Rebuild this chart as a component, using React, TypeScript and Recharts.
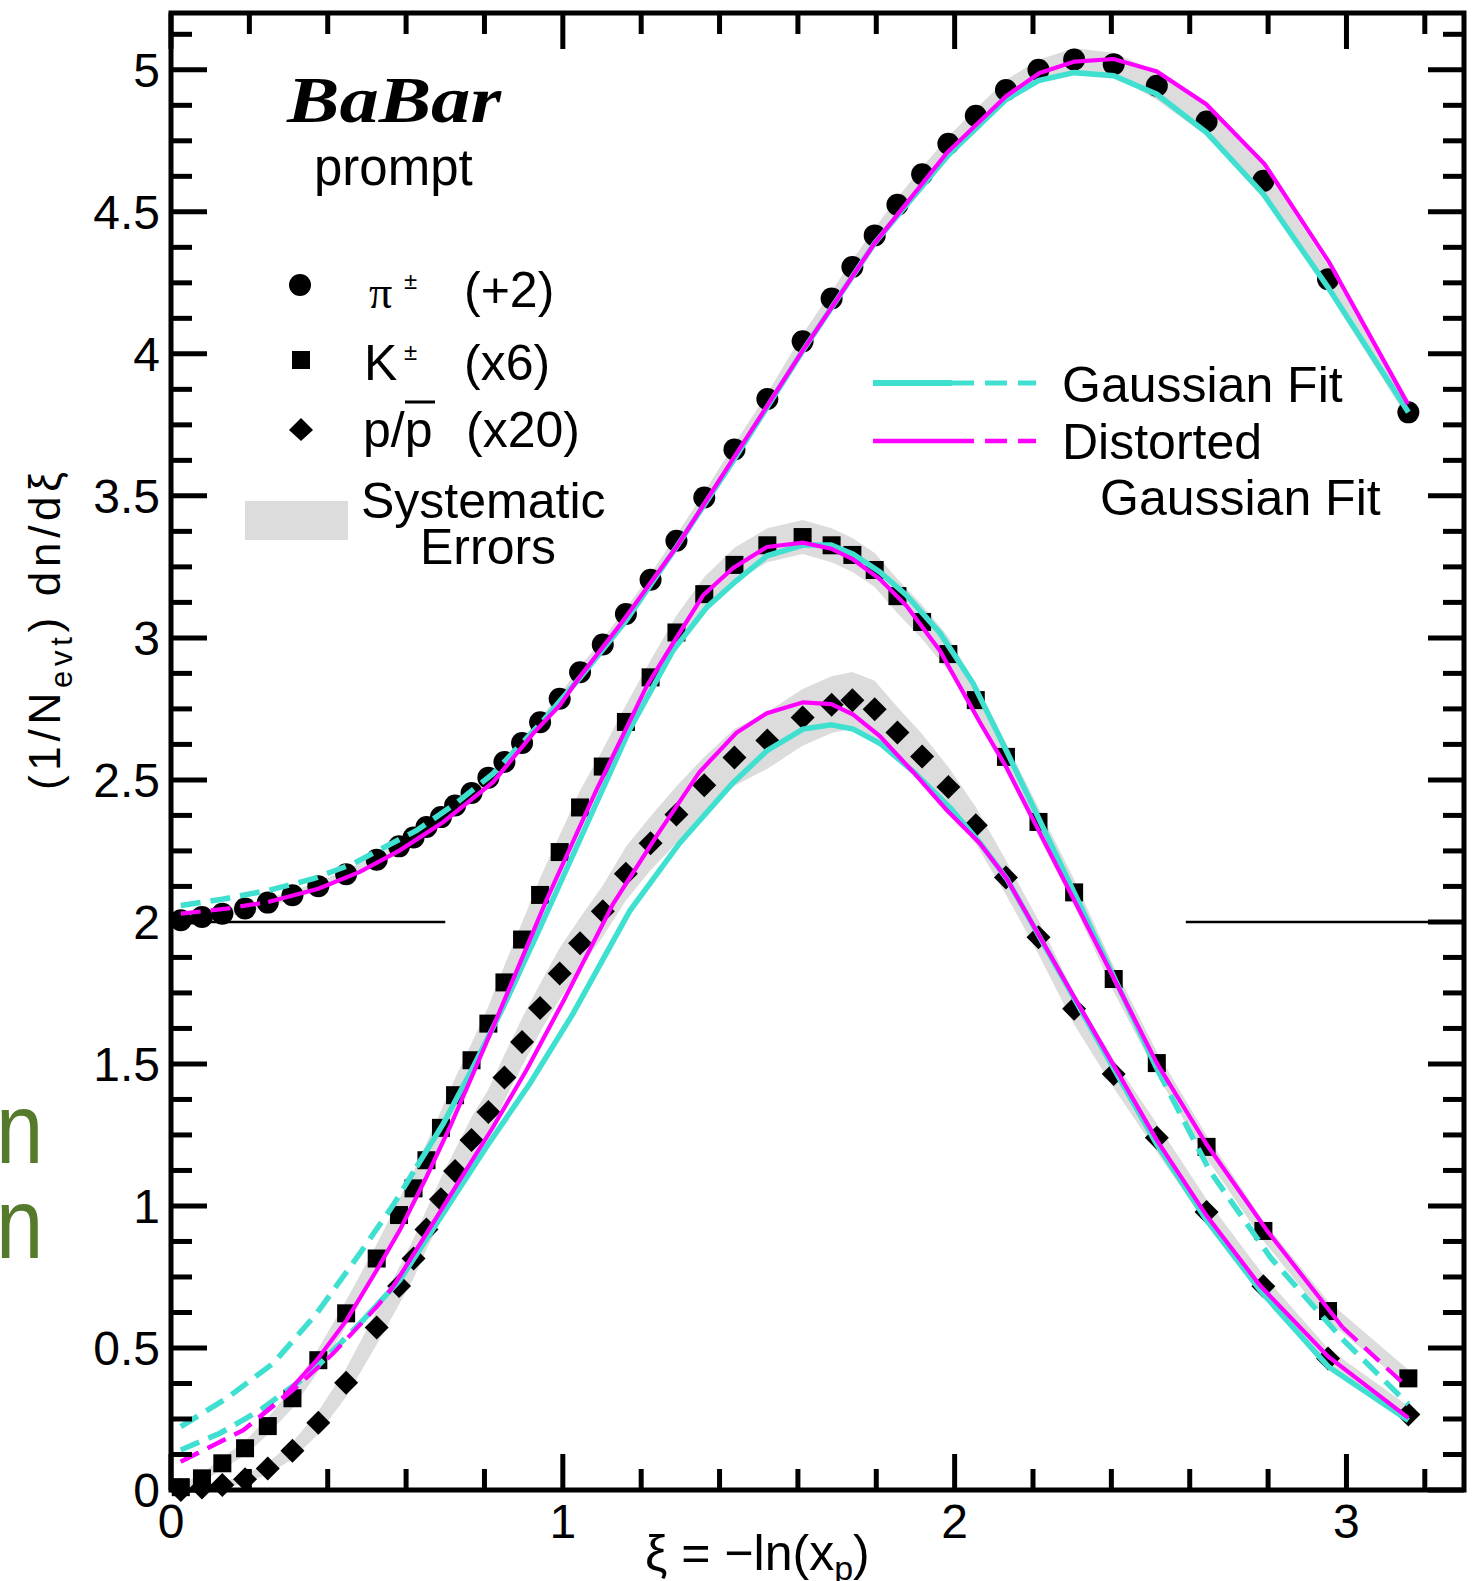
import {
  Area,
  ComposedChart,
  Customized,
  Line,
  ReferenceArea,
  ReferenceLine,
  Scatter,
  XAxis,
  YAxis,
} from "recharts"

const W = 1475
const H = 1581
const PLOT = { left: 171, top: 13, right: 1464, bottom: 1490 }
const SANS = "'Liberation Sans', Arial, Helvetica, sans-serif"
const SERIF = "'Liberation Serif', 'Times New Roman', serif"
const TEAL = "#40e0d0"
const MAGENTA = "#ff00ff"
const BAND = "#dcdcdc"

// axis ticks
const xMajorTicks = [0, 1, 2, 3]
const xMinorTicks = [0.2, 0.4, 0.6, 0.8, 1.2, 1.4, 1.6, 1.8, 2.2, 2.4, 2.6, 2.8, 3.2]
const yMajorTicks = [0, 0.5, 1, 1.5, 2, 2.5, 3, 3.5, 4, 4.5, 5]
const yMinorTicks = yMajorTicks.flatMap((m) => [m + 0.125, m + 0.25, m + 0.375]).filter((v) => v < 5.2)

// measured points: xi = -ln(xp)
const xi = [
  0.025, 0.079, 0.131, 0.189, 0.247, 0.31, 0.376, 0.447, 0.525, 0.582,
  0.619, 0.652, 0.689, 0.725, 0.767, 0.81, 0.851, 0.896, 0.942, 0.992,
  1.044, 1.102, 1.161, 1.224, 1.29, 1.361, 1.438, 1.522, 1.612, 1.686,
  1.739, 1.796, 1.854, 1.917, 1.984, 2.054, 2.131, 2.214, 2.305, 2.406,
  2.516, 2.643, 2.788, 2.953, 3.158,
]

// pi+- (+2)
const pion = [
  2.006, 2.017, 2.029, 2.047, 2.068, 2.094, 2.126, 2.168, 2.219, 2.266,
  2.297, 2.334, 2.369, 2.41, 2.454, 2.508, 2.563, 2.63, 2.703, 2.786,
  2.879, 2.977, 3.084, 3.205, 3.342, 3.494, 3.663, 3.841, 4.044, 4.195,
  4.306, 4.417, 4.525, 4.632, 4.74, 4.838, 4.929, 5.0, 5.036, 5.02,
  4.944, 4.818, 4.609, 4.263, 3.794,
]
const pionErr = [
  0.015, 0.015, 0.015, 0.015, 0.015, 0.015, 0.015, 0.015, 0.015, 0.015,
  0.015, 0.015, 0.015, 0.015, 0.015, 0.015, 0.015, 0.015, 0.015, 0.015,
  0.02, 0.02, 0.02, 0.02, 0.02, 0.02, 0.02, 0.02, 0.025, 0.025,
  0.025, 0.025, 0.025, 0.025, 0.025, 0.025, 0.035, 0.035, 0.04, 0.04,
  0.05, 0.05, 0.055, 0.045, 0.025,
]

// K+- (x6)
const kaon = [
  0.01, 0.041, 0.094, 0.147, 0.225, 0.323, 0.457, 0.622, 0.815, 0.968,
  1.062, 1.161, 1.275, 1.39, 1.513, 1.642, 1.787, 1.938, 2.095, 2.246,
  2.403, 2.547, 2.704, 2.861, 3.019, 3.154, 3.257, 3.326, 3.355, 3.326,
  3.292, 3.239, 3.147, 3.056, 2.943, 2.781, 2.581, 2.352, 2.104, 1.799,
  1.503, 1.208, 0.912, 0.63, 0.393,
]
const kaonErr = [
  0.01, 0.015, 0.02, 0.025, 0.03, 0.035, 0.04, 0.045, 0.05, 0.055,
  0.06, 0.06, 0.06, 0.06, 0.06, 0.06, 0.06, 0.06, 0.06, 0.06,
  0.06, 0.06, 0.06, 0.06, 0.06, 0.06, 0.06, 0.06, 0.06, 0.06,
  0.06, 0.06, 0.06, 0.06, 0.06, 0.055, 0.05, 0.05, 0.045, 0.045,
  0.04, 0.04, 0.035, 0.035, 0.03,
]

// p/pbar (x20)
const proton = [
  0.0, 0.009, 0.018, 0.038, 0.076, 0.138, 0.237, 0.378, 0.572, 0.718,
  0.815, 0.917, 1.024, 1.123, 1.232, 1.331, 1.452, 1.577, 1.697, 1.818,
  1.925, 2.038, 2.17, 2.277, 2.378, 2.481, 2.579, 2.639, 2.72, 2.765,
  2.78, 2.749, 2.667, 2.582, 2.475, 2.34, 2.156, 1.946, 1.694, 1.465,
  1.24, 0.979, 0.717, 0.463, 0.266,
]
const protonErr = [
  0.005, 0.008, 0.01, 0.015, 0.02, 0.03, 0.04, 0.05, 0.06, 0.065,
  0.07, 0.07, 0.075, 0.075, 0.08, 0.08, 0.08, 0.085, 0.085, 0.09,
  0.09, 0.09, 0.095, 0.095, 0.1, 0.1, 0.1, 0.1, 0.1, 0.1,
  0.1, 0.1, 0.09, 0.08, 0.07, 0.065, 0.06, 0.06, 0.055, 0.05,
  0.05, 0.045, 0.04, 0.035, 0.03,
]

// fits (solid inside [lo, hi], dashed outside)
const pionGaussX = [0.025, 0.131, 0.248, 0.363, 0.465, 0.525, 0.627, 0.725, 0.822, 0.95, 1.044, 1.161, 1.29, 1.438, 1.612, 1.796, 1.984, 2.131, 2.214, 2.305, 2.406, 2.516, 2.643, 2.788, 2.953, 3.158]
const pionGaussY = [2.058, 2.08, 2.111, 2.152, 2.205, 2.249, 2.322, 2.415, 2.522, 2.709, 2.86, 3.06, 3.32, 3.63, 4.01, 4.39, 4.7, 4.895, 4.962, 4.99, 4.979, 4.914, 4.779, 4.562, 4.234, 3.794]
const pionDistX = [0.025, 0.142, 0.248, 0.376, 0.482, 0.584, 0.695, 0.822, 0.924, 0.992, 1.043, 1.145, 1.29, 1.434, 1.613, 1.796, 1.979, 2.132, 2.217, 2.306, 2.406, 2.516, 2.642, 2.791, 2.956, 3.157]
const pionDistY = [2.029, 2.047, 2.07, 2.117, 2.176, 2.252, 2.352, 2.492, 2.663, 2.762, 2.862, 3.044, 3.32, 3.629, 4.013, 4.39, 4.706, 4.908, 4.989, 5.029, 5.038, 4.994, 4.879, 4.668, 4.322, 3.823]

const kaonGaussX = [0.025, 0.142, 0.261, 0.372, 0.482, 0.567, 0.627, 0.695, 0.767, 0.848, 0.942, 1.043, 1.171, 1.281, 1.367, 1.443, 1.521, 1.613, 1.685, 1.741, 1.809, 1.877, 1.962, 2.047, 2.133, 2.315, 2.516, 2.652, 2.807, 2.99, 3.158]
const kaonGaussY = [0.223, 0.323, 0.446, 0.622, 0.833, 1.003, 1.138, 1.29, 1.478, 1.7, 1.98, 2.288, 2.679, 2.955, 3.107, 3.201, 3.289, 3.327, 3.327, 3.295, 3.232, 3.15, 3.018, 2.84, 2.6, 2.075, 1.484, 1.122, 0.817, 0.531, 0.302]
const kaonDistX = [0.025, 0.185, 0.287, 0.372, 0.448, 0.525, 0.584, 0.652, 0.712, 0.771, 0.822, 0.958, 1.086, 1.214, 1.281, 1.358, 1.434, 1.521, 1.613, 1.685, 1.741, 1.809, 1.877, 1.962, 2.064, 2.133, 2.315, 2.516, 2.643, 2.798, 2.99, 3.158]
const kaonDistY = [0.1, 0.211, 0.328, 0.457, 0.598, 0.774, 0.915, 1.102, 1.278, 1.466, 1.63, 2.076, 2.465, 2.83, 2.981, 3.15, 3.245, 3.32, 3.335, 3.314, 3.276, 3.207, 3.113, 2.956, 2.704, 2.542, 2.05, 1.503, 1.217, 0.912, 0.573, 0.359]

const protonGaussX = [0.025, 0.125, 0.227, 0.355, 0.482, 0.584, 0.695, 0.805, 0.916, 1.026, 1.171, 1.298, 1.434, 1.521, 1.613, 1.685, 1.741, 1.809, 1.894, 1.99, 2.064, 2.133, 2.297, 2.406, 2.516, 2.643, 2.78, 2.953, 3.158]
const protonGaussY = [0.141, 0.2, 0.281, 0.41, 0.586, 0.739, 0.974, 1.208, 1.431, 1.677, 2.039, 2.277, 2.489, 2.603, 2.679, 2.694, 2.679, 2.629, 2.53, 2.4, 2.28, 2.152, 1.751, 1.484, 1.217, 0.95, 0.702, 0.435, 0.245]
const protonDistX = [0.025, 0.185, 0.312, 0.414, 0.525, 0.567, 0.652, 0.737, 0.822, 0.907, 1.001, 1.128, 1.239, 1.349, 1.443, 1.521, 1.613, 1.685, 1.741, 1.809, 1.894, 1.979, 2.064, 2.133, 2.297, 2.406, 2.516, 2.643, 2.78, 2.953, 3.158]
const protonDistY = [0.1, 0.211, 0.352, 0.481, 0.645, 0.716, 0.903, 1.091, 1.278, 1.478, 1.72, 2.063, 2.302, 2.528, 2.666, 2.735, 2.773, 2.767, 2.73, 2.654, 2.528, 2.395, 2.277, 2.152, 1.755, 1.495, 1.232, 0.966, 0.719, 0.47, 0.254]

const points = (ys: number[]) => xi.map((x, i) => ({ x, y: ys[i] }))
const band = (ys: number[], errs: number[]) =>
  xi.map((x, i) => ({ x, band: [Math.max(0, ys[i] - errs[i]), ys[i] + errs[i]] }))
const fit = (xs: number[], ys: number[], lo: number, hi: number) =>
  xs.map((x, i) => ({
    x,
    solid: x >= lo && x <= hi ? ys[i] : null,
    dashed: x <= lo || x >= hi ? ys[i] : null,
  }))

const fits = [
  { data: fit(pionGaussX, pionGaussY, 0.95, 9), color: TEAL, w: 5.5 },
  { data: fit(kaonGaussX, kaonGaussY, 0.627, 2.516), color: TEAL, w: 5.5 },
  { data: fit(protonGaussX, protonGaussY, 0.482, 9), color: TEAL, w: 5.5 },
  { data: fit(pionDistX, pionDistY, 0.248, 9), color: MAGENTA, w: 4.2 },
  { data: fit(kaonDistX, kaonDistY, 0.287, 2.99), color: MAGENTA, w: 4.2 },
  { data: fit(protonDistX, protonDistY, 0.567, 9), color: MAGENTA, w: 4.2 },
]

const isMajor = (list: number[], v: number) => list.some((t) => Math.abs(t - v) < 1e-6)

function XTick({ x, payload }: any) {
  const major = isMajor(xMajorTicks, payload.value)
  const len = major ? 36 : 21
  return (
    <g>
      <line x1={x} x2={x} y1={PLOT.bottom} y2={PLOT.bottom - len} stroke="#000" strokeWidth={5} />
      <line x1={x} x2={x} y1={PLOT.top} y2={PLOT.top + len} stroke="#000" strokeWidth={5} />
      {major && (
        <text x={x} y={PLOT.bottom + 48} textAnchor="middle" fontSize={48} fontFamily={SANS} fill="#000">
          {payload.value}
        </text>
      )}
    </g>
  )
}

function YTick({ y, payload }: any) {
  const major = isMajor(yMajorTicks, payload.value)
  const len = major ? 36 : 21
  return (
    <g>
      <line x1={PLOT.left} x2={PLOT.left + len} y1={y} y2={y} stroke="#000" strokeWidth={5} />
      <line x1={PLOT.right} x2={PLOT.right - len} y1={y} y2={y} stroke="#000" strokeWidth={5} />
      {major && (
        <text x={PLOT.left - 11} y={y + 17} textAnchor="end" fontSize={48} fontFamily={SANS} fill="#000">
          {payload.value}
        </text>
      )}
    </g>
  )
}

const Dot = (p: any) => <circle cx={p.cx} cy={p.cy} r={11} fill="#000" />
const Box = (p: any) => <rect x={p.cx - 9} y={p.cy - 9} width={18} height={18} fill="#000" />
const Gem = (p: any) => (
  <polygon
    points={`${p.cx},${p.cy - 12} ${p.cx + 12},${p.cy} ${p.cx},${p.cy + 12} ${p.cx - 12},${p.cy}`}
    fill="#000"
  />
)

function Overlay() {
  const s = { fontFamily: SANS, fill: "#000" }
  return (
    <g>
      <text x={287} y={122} fontFamily={SERIF} fontWeight="bold" fontStyle="italic" fontSize={66} textLength={214} lengthAdjust="spacingAndGlyphs">
        BaBar
      </text>
      <text x={314} y={185} fontSize={51} {...s}>prompt</text>

      <circle cx={300} cy={285} r={11} fill="#000" />
      <rect x={292} y={351} width={18} height={18} fill="#000" />
      <polygon points="301,418 313,430 301,441 289,430" fill="#000" />

      <text x={369} y={308} fontFamily={SERIF} fontSize={46} fill="#000">π</text>
      <text x={404} y={289} fontSize={24} {...s}>±</text>
      <text x={464} y={307} fontSize={50} {...s}>(+2)</text>
      <text x={364} y={380} fontSize={50} {...s}>K</text>
      <text x={404} y={360} fontSize={24} {...s}>±</text>
      <text x={464} y={380} fontSize={50} {...s}>(x6)</text>
      <text x={363} y={447} fontSize={50} {...s}>p/p</text>
      <line x1={405} x2={435} y1={402} y2={402} stroke="#000" strokeWidth={3} />
      <text x={466} y={447} fontSize={50} {...s}>(x20)</text>

      <rect x={245} y={501} width={103} height={39} fill={BAND} />
      <text x={361} y={518} fontSize={50} {...s}>Systematic</text>
      <text x={420} y={564} fontSize={50} {...s}>Errors</text>

      <line x1={873} x2={952} y1={383} y2={383} stroke={TEAL} strokeWidth={6} />
      <line x1={952} x2={1036} y1={383} y2={383} stroke={TEAL} strokeWidth={5} strokeDasharray="22 11" />
      <line x1={873} x2={952} y1={441} y2={441} stroke={MAGENTA} strokeWidth={4.5} />
      <line x1={952} x2={1036} y1={441} y2={441} stroke={MAGENTA} strokeWidth={4.5} strokeDasharray="22 11" />
      <text x={1062} y={402} fontSize={50} {...s}>Gaussian Fit</text>
      <text x={1062} y={459} fontSize={50} {...s}>Distorted</text>
      <text x={1100} y={515} fontSize={50} {...s}>Gaussian Fit</text>

      <text
        transform="translate(60,631) rotate(-90)"
        textAnchor="middle"
        fontSize={44}
        textLength={318}
        lengthAdjust="spacing"
        {...s}
      >
        (1/N
        <tspan fontSize={31} dy={12}>evt</tspan>
        <tspan dy={-12}>) dn/dξ</tspan>
      </text>

      <text x={645} y={1570} fontSize={50} {...s}>
        ξ = −ln(x
        <tspan fontSize={34} dy={10}>p</tspan>
        <tspan dy={-10}>)</tspan>
      </text>

      <text transform="translate(-4,1163) scale(0.85,1)" fontSize={100} fontFamily={SANS} fill="#567a2c">n</text>
      <text transform="translate(-4,1258) scale(0.85,1)" fontSize={100} fontFamily={SANS} fill="#567a2c">n</text>
    </g>
  )
}

export default function App() {
  const xTicks = [...xMajorTicks, ...xMinorTicks].sort((a, b) => a - b)
  const yTicks = [...yMajorTicks, ...yMinorTicks].sort((a, b) => a - b)
  return (
    <div style={{ position: "absolute", left: 0, top: 0, width: W, height: H, background: "#fff" }}>
      <ComposedChart width={W} height={H} margin={{ top: 13, right: 11, bottom: 31, left: 71 }}>
        <XAxis
          dataKey="x"
          type="number"
          domain={[0, 3.3]}
          ticks={xTicks}
          interval={0}
          height={60}
          tickSize={0}
          tickMargin={0}
          tickLine={false}
          axisLine={false}
          tick={(p: any) => <XTick {...p} />}
        />
        <YAxis
          dataKey="y"
          type="number"
          domain={[0, 5.2]}
          ticks={yTicks}
          interval={0}
          width={100}
          tickSize={0}
          tickMargin={0}
          tickLine={false}
          axisLine={false}
          tick={(p: any) => <YTick {...p} />}
        />

        <Area data={band(pion, pionErr)} dataKey="band" type="linear" fill={BAND} fillOpacity={1} stroke="none" isAnimationActive={false} zIndex={100} />
        <Area data={band(kaon, kaonErr)} dataKey="band" type="linear" fill={BAND} fillOpacity={1} stroke="none" isAnimationActive={false} zIndex={100} />
        <Area data={band(proton, protonErr)} dataKey="band" type="linear" fill={BAND} fillOpacity={1} stroke="none" isAnimationActive={false} zIndex={100} />

        <Scatter data={points(pion)} shape={Dot} isAnimationActive={false} zIndex={300} />
        <Scatter data={points(kaon)} shape={Box} isAnimationActive={false} zIndex={300} />
        <Scatter data={points(proton)} shape={Gem} isAnimationActive={false} zIndex={300} />

        {fits.map((f, i) => [
          <Line
            key={`s${i}`}
            data={f.data}
            dataKey="solid"
            type="linear"
            stroke={f.color}
            strokeWidth={f.w}
            dot={false}
            activeDot={false}
            isAnimationActive={false}
            zIndex={400}
          />,
          <Line
            key={`d${i}`}
            data={f.data}
            dataKey="dashed"
            type="linear"
            stroke={f.color}
            strokeWidth={f.w}
            strokeDasharray="20 10"
            dot={false}
            activeDot={false}
            isAnimationActive={false}
            zIndex={400}
          />,
        ])}

        <ReferenceLine segment={[{ x: 0, y: 2 }, { x: 0.7, y: 2 }]} stroke="#000" strokeWidth={2.5} />
        <ReferenceLine segment={[{ x: 2.59, y: 2 }, { x: 3.3, y: 2 }]} stroke="#000" strokeWidth={2.5} />
        <ReferenceArea x1={0} x2={3.3} y1={0} y2={5.2} fill="none" fillOpacity={0} stroke="#000" strokeWidth={5} />

        <Customized component={Overlay} />
      </ComposedChart>
    </div>
  )
}
